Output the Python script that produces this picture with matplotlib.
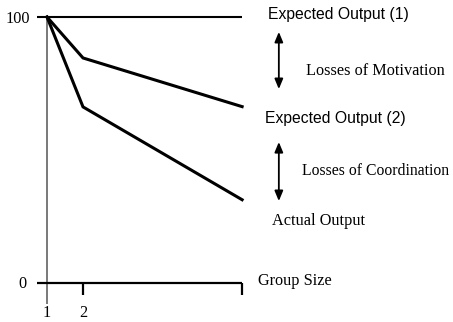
import matplotlib
matplotlib.use("Agg")
import matplotlib.pyplot as plt

# Group size and output levels (percent of expected output)
group_size = [1, 2, 6.42]
expected_output_1 = [100, 100, 100]
expected_output_2 = [100, 84.6, 66.3]
actual_output = [100, 66.2, 31.3]

y_tick_labels = ["0", "100"]
x_tick_labels = ["1", "2"]

SANS = "Liberation Sans"
SERIF = "Liberation Serif"
SANS_SIZE = 11.3
SERIF_SIZE = 11.7

fig = plt.figure(figsize=(4.53, 3.22), dpi=100)
ax = fig.add_axes([0, 0, 1, 1])
ax.set_xlim(-0.306, 12.278)
ax.set_ylim(-14.66, 106.39)
ax.axis("off")

# Axes drawn by hand
ax.plot([1, 1], [100, -7.9], color="#555555", lw=1.1, solid_capstyle="butt")
ax.plot([0.72, group_size[-1]], [0, 0], color="black", lw=1.6, solid_capstyle="butt")
ax.plot([2, 2], [0, -4.6], color="black", lw=1.6, solid_capstyle="butt")
ax.plot([group_size[-1]] * 2, [0, -4.6], color="black", lw=1.6, solid_capstyle="butt")

# Output curves
ax.plot([0.72] + group_size[1:], [100] + expected_output_1[1:], color="black", lw=1.5,
        solid_capstyle="butt")
ax.plot(group_size, expected_output_2, color="black", lw=2.2, solid_joinstyle="miter")
ax.plot(group_size, actual_output, color="black", lw=2.2, solid_joinstyle="miter")

# Axis labels
ax.text(0.53, 97.7, y_tick_labels[1], family=SERIF, fontsize=SERIF_SIZE, ha="right", va="baseline")
ax.text(0.31, -1.9, y_tick_labels[0], family=SERIF, fontsize=SERIF_SIZE, ha="center", va="baseline")
ax.text(1, -12.8, x_tick_labels[0], family=SERIF, fontsize=SERIF_SIZE, ha="center", va="baseline")
ax.text(2, -12.8, x_tick_labels[1], family=SERIF, fontsize=SERIF_SIZE, ha="center", va="baseline")
ax.text(6.86, -0.75, "Group Size", family=SERIF, fontsize=SERIF_SIZE, ha="left", va="baseline")

# Curve labels
ax.text(7.14, 99.06, "Expected Output (1)", family=SANS, fontsize=SANS_SIZE, ha="left", va="baseline")
ax.text(7.06, 60.3, "Expected Output (2)", family=SANS, fontsize=SANS_SIZE, ha="left", va="baseline")
ax.text(7.25, 21.8, "Actual Output", family=SERIF, fontsize=SERIF_SIZE, ha="left", va="baseline")
ax.text(8.19, 78.2, "Losses of Motivation", family=SERIF, fontsize=SERIF_SIZE, ha="left", va="baseline")
ax.text(8.08, 40.6, "Losses of Coordination", family=SERIF, fontsize=11.3, ha="left", va="baseline")

# Double-headed arrows for the losses
arrow = dict(arrowstyle="<|-|>,head_length=0.6,head_width=0.25", color="black", lw=1.3,
             shrinkA=0, shrinkB=0)
ax.annotate("", xy=(7.44, 94.4), xytext=(7.44, 72.9), arrowprops=arrow)
ax.annotate("", xy=(7.44, 53.0), xytext=(7.44, 30.8), arrowprops=arrow)

fig.savefig("out.png", dpi=100)
